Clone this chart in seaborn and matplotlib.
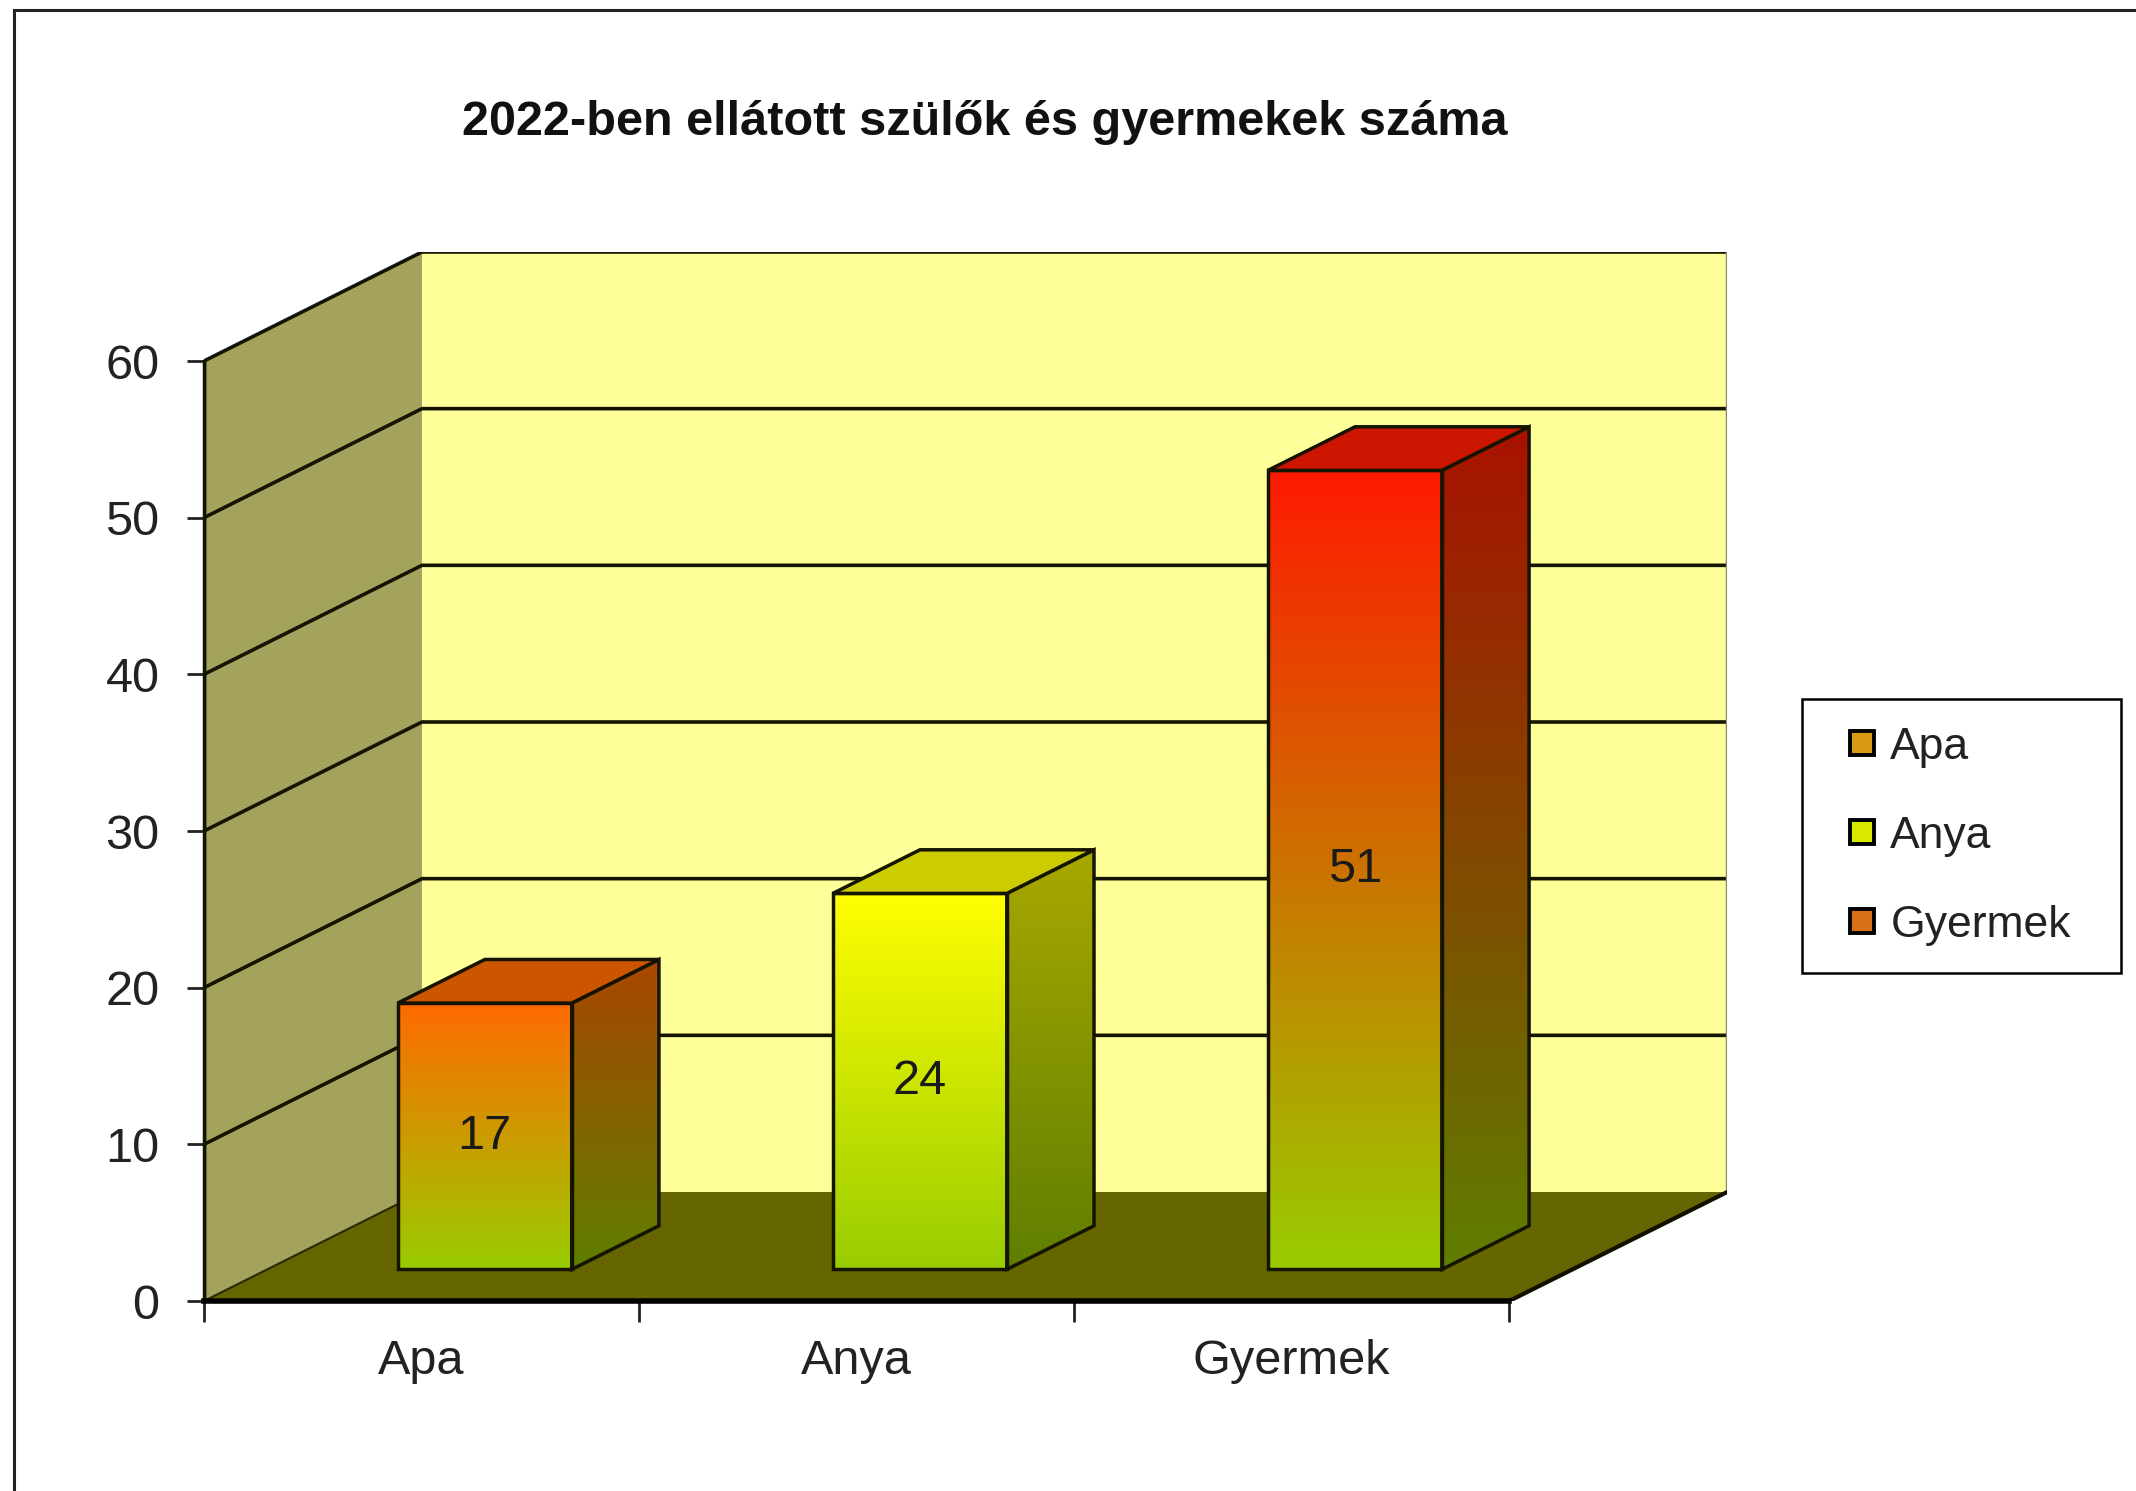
"""
2022-ben ellátott szülők és gyermekek száma - 3D-s oszlopdiagram utánzat
"""
import numpy as np
import matplotlib
matplotlib.use("Agg")
import matplotlib.pyplot as plt
from matplotlib.patches import Polygon, Rectangle
from matplotlib.lines import Line2D
import seaborn as sns

# ── Adatok ────────────────────────────────────────────────────────────────────
categories = ["Apa", "Anya", "Gyermek"]
values = [17, 24, 51]
y_ticks = [0, 10, 20, 30, 40, 50, 60]
title = "2022-ben ellátott szülők és gyermekek száma"

# színátmenet: felső szín, alsó szín
top_colors = ["#FF6A00", "#FFFF00", "#FF1A00"]
bottom_color = "#99CC00"
legend_colors = ["#D89A10", "#D8E800", "#D87018"]

# ── 3D geometria (adategységben) ──────────────────────────────────────────────
DX, DY = 0.501, 6.96      # mélységi eltolás
D1, D2 = 0.29, 0.69       # oszlop eleje / hátulja a mélységben
YMAX = 60
EDGE = "#141400"

sns.set_style("white")
plt.rcParams["font.family"] = ["Liberation Sans", "DejaVu Sans"]

fig = plt.figure(figsize=(21.36, 14.91), dpi=100)
ax = fig.add_axes([0.0955, 0.1274, 0.7131, 0.7036])
ax.set_facecolor("none")


def rgb(c):
    return np.array(matplotlib.colors.to_rgb(c))


def gradient(ax, clip, xs, ys, c_top, c_bot, z):
    t = np.linspace(0, 1, 256)[:, None, None]
    img = c_bot + (c_top - c_bot) * t
    im = ax.imshow(img, extent=(min(xs), max(xs), min(ys), max(ys)),
                   origin="lower", aspect="auto", zorder=z,
                   interpolation="bilinear")
    im.set_clip_path(clip)


# ── Falak és padló ────────────────────────────────────────────────────────────
x0, x1 = -0.5, len(categories) - 0.5
side = Polygon([(x0, 0), (x0, YMAX), (x0 + DX, YMAX + DY), (x0 + DX, DY)],
               facecolor="#A3A35E", edgecolor="none", zorder=0)
back = Polygon([(x0 + DX, DY), (x0 + DX, YMAX + DY), (x1 + DX, YMAX + DY),
                (x1 + DX, DY)], facecolor="#FFFF99", edgecolor="none", zorder=0)
floor = Polygon([(x0, 0), (x1, 0), (x1 + DX, DY), (x0 + DX, DY)],
                facecolor="#666600", edgecolor="none", zorder=2)
for p in (side, back, floor):
    ax.add_patch(p)

for v in y_ticks[1:]:
    ax.plot([x0, x0 + DX, x1 + DX], [v, v + DY, v + DY],
            color=EDGE, lw=2.6, zorder=1, solid_capstyle="butt")
ax.plot([x1 + DX, x1 + DX], [DY, YMAX + DY], color="#8a8a70", lw=2.5, zorder=1)
ax.plot([x0, x0 + DX], [0, DY], color="#2a2a00", lw=1.5, zorder=2.1)
ax.plot([x1, x1 + DX], [0, DY], color="#111100", lw=3, zorder=2.1)
ax.plot([x0, x0], [0, YMAX], color=EDGE, lw=2.5, zorder=2.2)

# ── Oszlopok ──────────────────────────────────────────────────────────────────
sns.barplot(x=categories, y=values, hue=categories, width=0.4,
            legend=False, ax=ax)
bars = sorted(ax.patches[3:], key=lambda p: p.get_x())

for i, bar in enumerate(bars):
    w, h = bar.get_width(), bar.get_height()
    bx = bar.get_x() + DX * D1
    by = DY * D1
    dd = D2 - D1
    c1, c2 = rgb(top_colors[i]), rgb(bottom_color)
    z = 4 + i

    bar.set_x(bx)
    bar.set_y(by)
    bar.set_facecolor("none")
    bar.set_edgecolor(EDGE)
    bar.set_linewidth(2.5)
    bar.set_zorder(z + 0.5)
    gradient(ax, bar, [bx, bx + w], [by, by + h], c1, c2, z)

    # oldallap
    sxy = [(bx + w, by), (bx + w, by + h), (bx + w + DX * dd, by + h + DY * dd),
           (bx + w + DX * dd, by + DY * dd)]
    sp = Polygon(sxy, closed=True, facecolor="none", edgecolor=EDGE,
                 lw=2.5, zorder=z + 0.5)
    ax.add_patch(sp)
    gradient(ax, sp, [q[0] for q in sxy], [q[1] for q in sxy],
             c1 * 0.66, c2 * 0.62, z)

    # tetőlap
    txy = [(bx, by + h), (bx + w, by + h), (bx + w + DX * dd, by + h + DY * dd),
           (bx + DX * dd, by + h + DY * dd)]
    ax.add_patch(Polygon(txy, closed=True, facecolor=c1 * 0.8, edgecolor=EDGE,
                         lw=2.5, zorder=z + 0.5))

    ax.text(bx + w / 2, by + h / 2, str(values[i]), ha="center", va="center",
            fontsize=35, color="#1a1a1a", zorder=z + 1)

# ── Tengelyek ─────────────────────────────────────────────────────────────────
ax.set_xlim(x0, x1 + DX)
ax.set_ylim(0, YMAX + DY)
for s in ("top", "right"):
    ax.spines[s].set_visible(False)
ax.spines["left"].set_bounds(0, YMAX)
ax.spines["left"].set_linewidth(2.5)
ax.spines["left"].set_color(EDGE)
ax.spines["bottom"].set_bounds(x0, x1)
ax.spines["bottom"].set_linewidth(4)
ax.spines["bottom"].set_color("#000000")
ax.spines["bottom"].set_zorder(3)

ax.set_yticks(y_ticks)
ax.set_yticklabels([str(v) for v in y_ticks])
ax.tick_params(axis="y", length=12, width=2, color="#222222", pad=20,
               labelsize=35, labelcolor="#222222", left=True)
ax.set_xticks(np.arange(len(categories) + 1) - 0.5)
ax.set_xticklabels([""] * (len(categories) + 1))
ax.set_xticks(np.arange(len(categories)), minor=True)
ax.set_xticklabels(categories, minor=True)
ax.tick_params(axis="x", which="major", length=15, width=2, color="#222222",
               bottom=True)
ax.tick_params(axis="x", which="minor", length=0, pad=27, labelsize=35,
               labelcolor="#222222")
ax.set_xlabel("")
ax.set_ylabel("")

# ── Cím, jelmagyarázat, keret ─────────────────────────────────────────────────
fig.text(0.461, 0.918, title, ha="center", va="center", fontsize=35,
         fontweight="bold", color="#111111")

handles = [Line2D([], [], linestyle="none", marker="s", markersize=17,
                  markerfacecolor=c, markeredgecolor="black",
                  markeredgewidth=2.8) for c in legend_colors]
leg = fig.legend(handles, categories, loc="upper left", mode="expand",
                 bbox_to_anchor=(0.8436, 0.35, 0.1492, 0.181), fontsize=32,
                 frameon=True, fancybox=False, edgecolor="black", framealpha=1,
                 handlelength=1.45, handletextpad=-0.08, labelspacing=1.08,
                 borderpad=0.62, borderaxespad=0)
leg.get_frame().set_linewidth(1.8)
for t in leg.get_texts():
    t.set_color("#222222")

fig.add_artist(Rectangle((14 / 2136, -0.05), 1.1, 1.05 - 10 / 1491,
                         transform=fig.transFigure, facecolor="none",
                         edgecolor="#222222", lw=2.2))

fig.savefig("out.png", dpi=100)
